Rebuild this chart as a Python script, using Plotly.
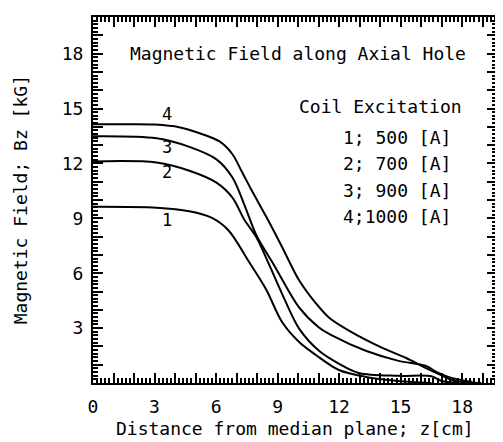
import plotly.graph_objects as go

# distance from median plane z [cm] and field Bz [kG]
z_500 = [0, 3.1, 4.7, 5.8, 6.6, 7.62, 8.45, 9.22, 10.05, 10.87, 11.99, 13.3, 14.9, 16.5]
bz_500 = [9.63, 9.58, 9.38, 9.02, 8.35, 6.6, 5.1, 3.33, 2.24, 1.53, 0.71, 0.33, 0.11, 0.0]

z_700 = [0, 3.1, 4.7, 6.02, 6.8, 7.38, 7.96, 8.6, 9.32, 10.05, 11.02, 12.0, 12.96, 14.9, 16.5, 17.0, 17.8]
bz_700 = [12.11, 12.05, 11.6, 10.95, 10.13, 8.92, 7.98, 6.44, 4.62, 2.97, 1.76, 1.05, 0.55, 0.39, 0.37, 0.11, 0.0]

z_900 = [0, 3.1, 4.7, 6.02, 6.8, 7.38, 7.96, 8.83, 10.05, 11.02, 11.65, 13.3, 14.9, 16.21, 16.84, 17.48, 18.5]
bz_900 = [13.48, 13.37, 12.9, 12.22, 11.23, 9.74, 8.09, 6.44, 4.13, 3.03, 2.6, 1.76, 1.21, 0.94, 0.55, 0.28, 0.05]

z_1000 = [0, 1.8, 3.0, 4.2, 5.2, 6.17, 6.8, 7.28, 7.77, 8.45, 9.22, 10.05, 10.87, 11.5, 12.48,
          14.08, 15.24, 16.21, 16.84, 17.67, 18.93]
bz_1000 = [14.14, 14.14, 14.12, 13.98, 13.65, 13.2, 12.5, 11.5, 10.46, 9.08, 7.43, 5.61, 4.35, 3.58, 2.86,
           1.93, 1.38, 0.83, 0.5, 0.11, 0.0]

curve_names = ['1', '2', '3', '4']
label_z = [3.6, 3.6, 3.6, 3.6]
label_bz = [8.9, 11.55, 12.9, 14.7]

legend_title = 'Coil Excitation'
legend_rows = ['1; 500 [A]', '2; 700 [A]', '3; 900 [A]', '4;1000 [A]']

x_ticks = list(range(0, 20))
x_ticktext = [str(v) if v % 3 == 0 else '' for v in x_ticks]
y_ticks = list(range(1, 21))
y_ticktext = [str(v) if v % 3 == 0 else '' for v in y_ticks]

FONT = 'DejaVu Sans Mono'
txt = dict(family=FONT, size=18, color='black')

fig = go.Figure()
for zs, bs in [(z_500, bz_500), (z_700, bz_700), (z_900, bz_900), (z_1000, bz_1000)]:
    fig.add_trace(go.Scatter(x=zs, y=bs, mode='lines', showlegend=False,
                             line=dict(color='black', width=2, shape='spline', smoothing=0.9)))

ann = []
for name, lx, ly in zip(curve_names, label_z, label_bz):
    ann.append(dict(x=lx, y=ly, xref='x', yref='y', text=name, showarrow=False,
                    font=dict(family=FONT, size=17, color='black')))
ann.append(dict(x=10.0, y=18.0, xref='x', yref='y', text='Magnetic Field along Axial Hole',
                showarrow=False, font=txt))
ann.append(dict(x=18.1, y=15.1, xref='x', yref='y', text=legend_title, xanchor='right',
                showarrow=False, font=txt))
for i, row in enumerate(legend_rows):
    ann.append(dict(x=17.55, y=13.4 - 1.43 * i, xref='x', yref='y', text=row, xanchor='right',
                    showarrow=False, font=txt))
ann.append(dict(x=0.5, y=-0.123, xref='paper', yref='paper', text='Distance from median plane; z[cm]',
                showarrow=False, font=txt, yanchor='middle'))
ann.append(dict(x=-0.18, y=0.5, xref='paper', yref='paper', text='Magnetic Field; Bz [kG]',
                textangle=-90, showarrow=False, font=txt, xanchor='center'))

axis_common = dict(ticks='inside', ticklen=10, tickwidth=2, tickcolor='black',
                   showline=True, linewidth=2, linecolor='black', mirror='allticks',
                   showgrid=False, zeroline=False, tickfont=txt,
                   minor=dict(dtick=0.2, ticks='inside', ticklen=5, tickwidth=1.5, tickcolor='black'))

# page body has an 8px margin, so the figure is sized to fit the 503x442 window
fig.update_layout(
    width=495, height=434,
    margin=dict(l=85, r=4, t=9, b=59),
    paper_bgcolor='white', plot_bgcolor='white',
    font=txt,
    annotations=ann,
    xaxis=dict(range=[0, 19.7], tickvals=x_ticks, ticktext=x_ticktext, ticklabelstandoff=6,
               **axis_common),
    yaxis=dict(range=[0, 20], tickvals=y_ticks, ticktext=y_ticktext, ticklabelstandoff=4,
               **axis_common),
)

fig.write_html("out.html")
